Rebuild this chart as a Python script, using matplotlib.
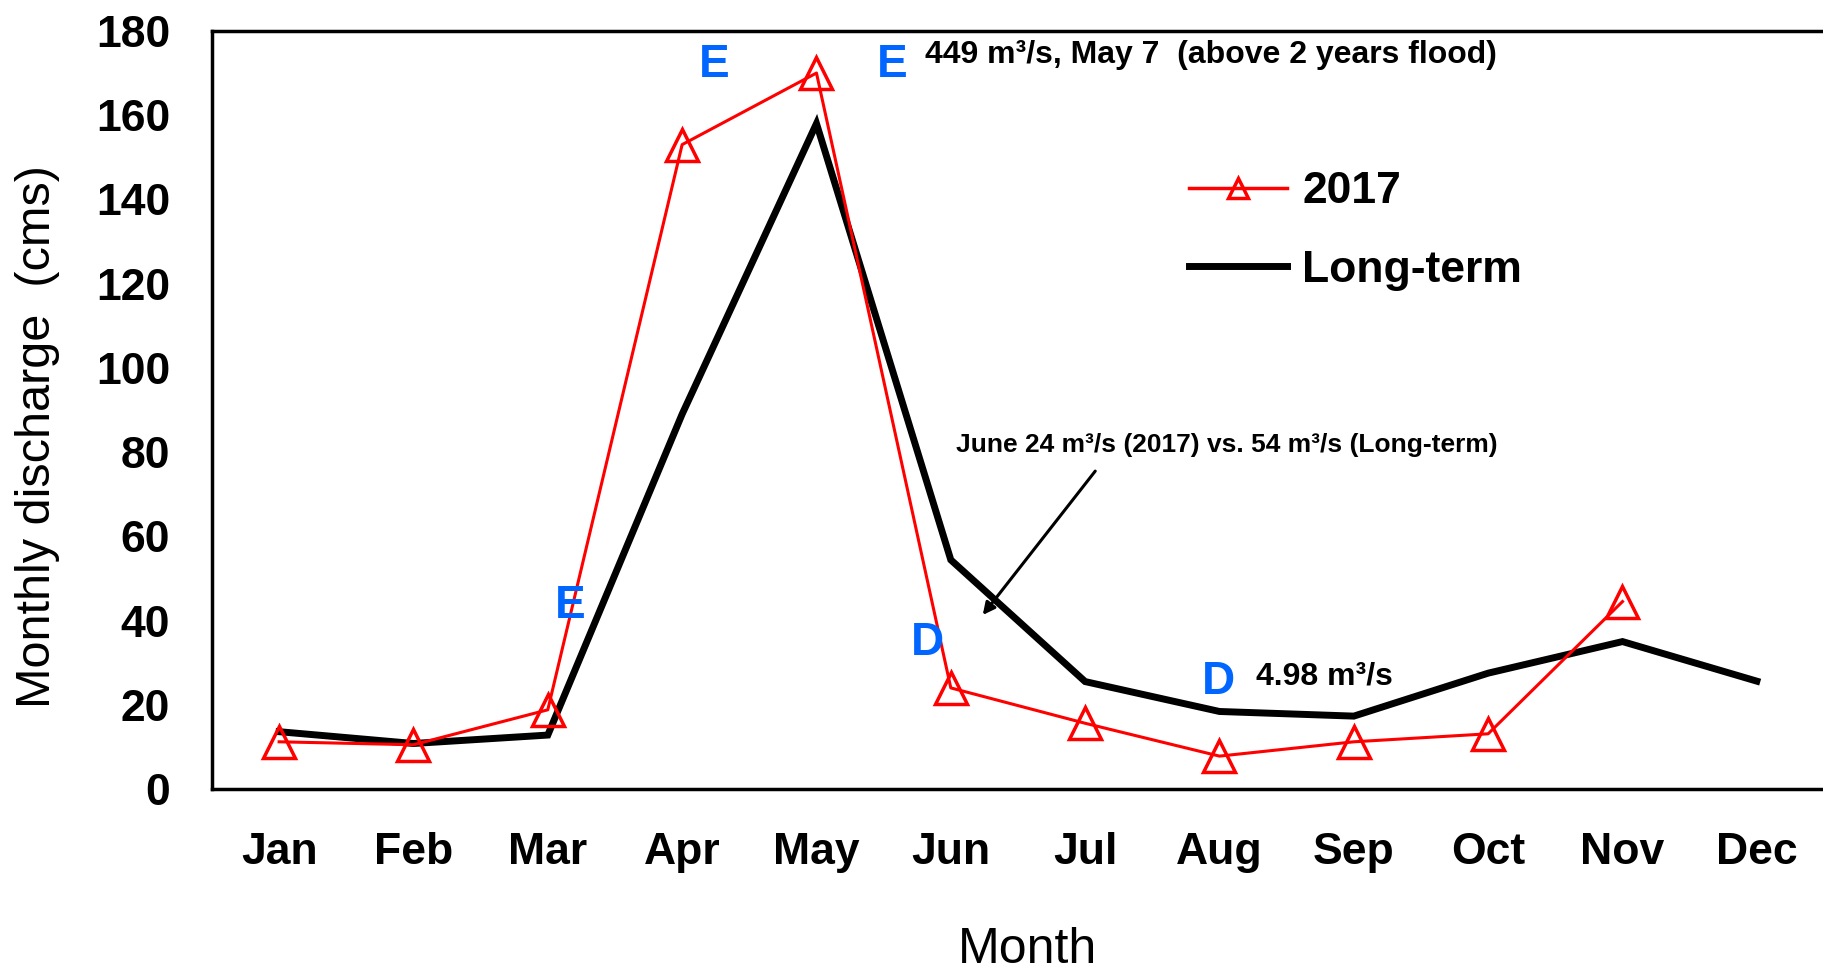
import matplotlib
matplotlib.use('Agg')
import matplotlib.pyplot as plt
from matplotlib.lines import Line2D

months = ['Jan', 'Feb', 'Mar', 'Apr', 'May', 'Jun', 'Jul', 'Aug', 'Sep', 'Oct', 'Nov', 'Dec']
q_2017 = [11.2, 10.5, 18.8, 153, 170, 24, 15.6, 7.8, 11.2, 13.1, 44.5]
q_longterm = [13.6, 10.8, 12.8, 89, 158, 54.4, 25.5, 18.4, 17.3, 27.5, 35, 25.6]

plt.rcParams['font.family'] = ['Liberation Sans', 'DejaVu Sans']

fig = plt.figure(figsize=(18.24, 9.72), dpi=100)
ax = fig.add_axes([0.1162, 0.1883, 0.8838, 0.7799])

x = list(range(len(months)))
ax.plot(x[:len(q_2017)], q_2017, color='red', lw=2.2, marker='^', ms=23,
        mfc='none', mec='red', mew=2.5, zorder=3)
ax.plot(x, q_longterm, color='black', lw=5, solid_joinstyle='miter', zorder=2)

ax.set_xlim(-0.5, 11.5)
ax.set_ylim(0, 180)
ax.set_yticks(range(0, 181, 20))
ax.set_xticks(x)
ax.set_xticklabels(months)
ax.tick_params(length=0, labelsize=32)
ax.tick_params(axis='y', pad=30)
ax.tick_params(axis='x', pad=31)
for lab in ax.get_xticklabels() + ax.get_yticklabels():
    lab.set_fontweight('bold')

for s in ['left', 'bottom', 'top']:
    ax.spines[s].set_linewidth(2.5)
ax.spines['right'].set_visible(False)

ax.set_xlabel('Month', fontsize=36)
ax.set_ylabel('Monthly discharge  (cms)', fontsize=35)
ax.xaxis.set_label_coords(0.506, -0.182)
ax.yaxis.set_label_coords(-0.094, 0.465)

# legend
h1 = Line2D([], [], color='red', lw=2.5, marker='^', ms=14, mfc='none', mec='red', mew=2.5)
h2 = Line2D([], [], color='black', lw=5)
leg = ax.legend([h1, h2], ['2017', 'Long-term'], loc='upper left', bbox_to_anchor=(0.606, 0.815),
                frameon=False, handlelength=2.2, handletextpad=0.35, labelspacing=0.85,
                prop={'size': 32, 'weight': 'bold'}, borderpad=0, borderaxespad=0)

blue = '#0066FF'
letter_font = dict(color=blue, fontsize=33, fontweight='bold', ha='center', va='center')
ax.text(3.237, 172, 'E', **letter_font)
ax.text(4.562, 172, 'E', **letter_font)
ax.text(2.165, 43.5, 'E', **letter_font)
ax.text(4.823, 34.7, 'D', **letter_font)
ax.text(6.989, 25.4, 'D', **letter_font)

ax.text(4.808, 174.3, '449 m³/s, May 7  (above 2 years flood)', fontsize=23, fontweight='bold',
        ha='left', va='center')
ax.text(7.27, 26.6, '4.98 m³/s', fontsize=23, fontweight='bold', ha='left', va='center')
ax.text(5.039, 81.6, 'June 24 m³/s (2017) vs. 54 m³/s (Long-term)', fontsize=19, fontweight='bold',
        ha='left', va='center')
ax.annotate('', xy=(5.225, 40.8), xytext=(6.088, 76),
            arrowprops=dict(arrowstyle='-|>', color='black', lw=2.2, mutation_scale=18))

fig.savefig('out.png', dpi=100)
